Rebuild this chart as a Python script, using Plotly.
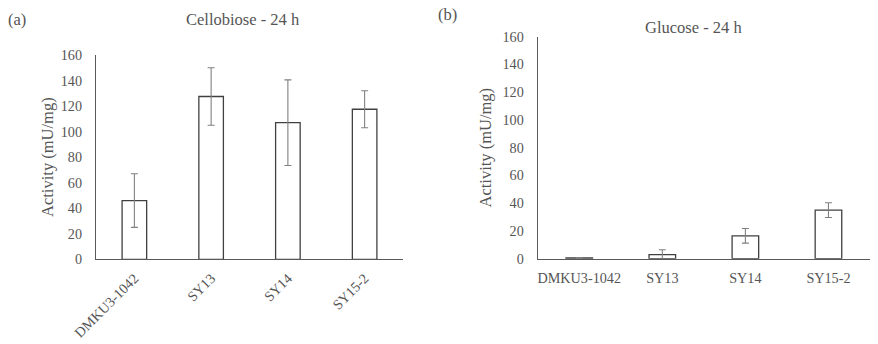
import plotly.graph_objects as go

categories = ["DMKU3-1042", "SY13", "SY14", "SY15-2"]
cellobiose_mean = [46, 127.5, 107, 117.5]
cellobiose_err = [21, 22.5, 33.5, 14.5]
glucose_mean = [0.5, 3, 16.5, 35]
glucose_err = [0.3, 3.5, 5.3, 5.3]
y_ticks = [0, 20, 40, 60, 80, 100, 120, 140, 160]

FONT = "Liberation Serif, Times New Roman, serif"
TXT = "#555555"
BAR_LINE = "#404040"
ERR = "#808080"

fig = go.Figure()

fig.add_trace(go.Bar(
    x=categories, y=cellobiose_mean, width=0.32,
    marker=dict(color="white", line=dict(color=BAR_LINE, width=1.3)),
    error_y=dict(type="data", array=cellobiose_err, color=ERR, thickness=1.1, width=3.5),
    xaxis="x", yaxis="y", showlegend=False,
))
fig.add_trace(go.Bar(
    x=categories, y=glucose_mean, width=0.32,
    marker=dict(color="white", line=dict(color=BAR_LINE, width=1.3)),
    error_y=dict(type="data", array=glucose_err, color=ERR, thickness=1.1, width=3.5),
    xaxis="x2", yaxis="y2", showlegend=False,
))

W, H = 878, 344
def px_x(p): return p / W
def px_y(p): return 1 - p / H

common_y = dict(
    range=[0, 160], tickvals=y_ticks, showgrid=False, zeroline=False,
    showline=True, linecolor="#595959", linewidth=1.2,
    ticks="", ticklabelstandoff=10, automargin=False,
    tickfont=dict(family=FONT, size=14.2, color=TXT),
    title_font=dict(family=FONT, size=16.5, color=TXT),
)
common_x = dict(
    showgrid=False, zeroline=False, showline=True, linecolor="#595959",
    linewidth=1.2, ticks="", automargin=False,
    tickfont=dict(family=FONT, size=14.2, color=TXT),
)

fig.update_layout(
    width=W, height=H,
    margin=dict(l=0, r=0, t=0, b=0),
    paper_bgcolor="white", plot_bgcolor="white",
    xaxis=dict(domain=[px_x(96), px_x(403)], anchor="y", tickangle=-45,
               ticklabelstandoff=4, **common_x),
    yaxis=dict(domain=[px_y(259.3), px_y(55)], anchor="x",
               title=dict(text="Activity (mU/mg)", standoff=2), **common_y),
    xaxis2=dict(domain=[px_x(537.7), px_x(870)], anchor="y2", tickangle=0,
                ticklabelstandoff=6, **common_x),
    yaxis2=dict(domain=[px_y(258.7), px_y(36.7)], anchor="x2",
                title=dict(text="Activity (mU/mg)", standoff=6), **common_y),
    annotations=[
        dict(text="Cellobiose - 24 h", x=px_x(243), y=px_y(20), xref="paper", yref="paper",
             showarrow=False, xanchor="center", yanchor="middle",
             font=dict(family=FONT, size=16.5, color=TXT)),
        dict(text="Glucose - 24 h", x=px_x(693), y=px_y(27), xref="paper", yref="paper",
             showarrow=False, xanchor="center", yanchor="middle",
             font=dict(family=FONT, size=16.5, color=TXT)),
        dict(text="(a)", x=px_x(6), y=px_y(20), xref="paper", yref="paper",
             showarrow=False, xanchor="left", yanchor="middle",
             font=dict(family=FONT, size=16.5, color=TXT)),
        dict(text="(b)", x=px_x(436), y=px_y(15), xref="paper", yref="paper",
             showarrow=False, xanchor="left", yanchor="middle",
             font=dict(family=FONT, size=16.5, color=TXT)),
    ],
    bargap=0.68,
)

fig.write_html("out.html", config={"displayModeBar": False},
               post_script="document.body.style.margin='0';")
